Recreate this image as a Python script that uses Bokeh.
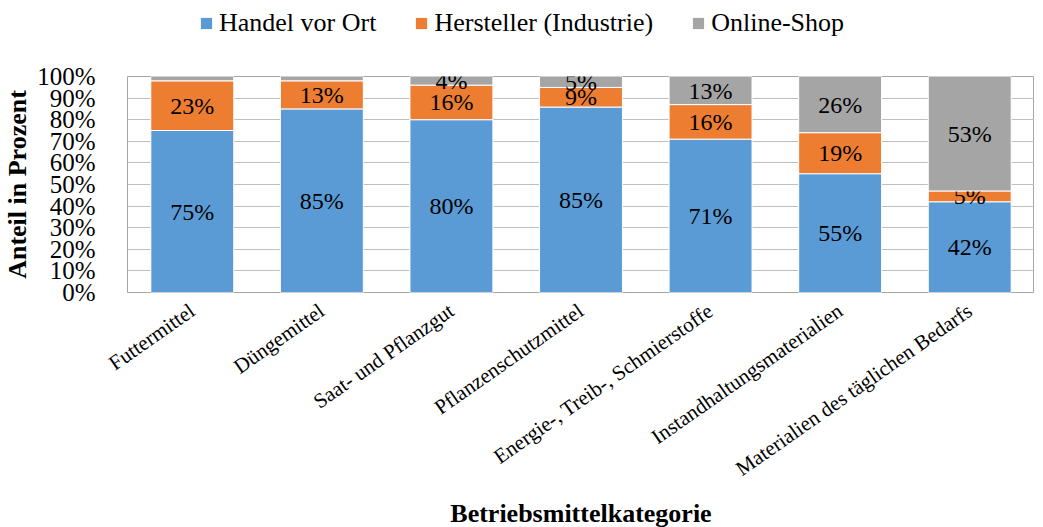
import math
from bokeh.plotting import figure
from bokeh.layouts import column
from bokeh.models import ColumnDataSource, Legend, LegendItem, FactorRange, NumeralTickFormatter, FixedTicker, Range1d
from bokeh.core.properties import value
from bokeh.embed import file_html
from bokeh.resources import INLINE

categories = ["Futtermittel", "Düngemittel", "Saat- und Pflanzgut", "Pflanzenschutzmittel",
              "Energie-, Treib-, Schmierstoffe", "Instandhaltungsmaterialien",
              "Materialien des täglichen Bedarfs"]
handel = [75, 85, 80, 85, 71, 55, 42]
hersteller = [23, 13, 16, 9, 16, 19, 5]
online = [2, 2, 4, 5, 13, 26, 53]
series_names = ["Handel vor Ort", "Hersteller (Industrie)", "Online-Shop"]
colors = ["#5B9BD5", "#ED7D31", "#A5A5A5"]
FONT = "Liberation Serif"

series = [handel, hersteller, online]
totals = [sum(v) for v in zip(*series)]

p = figure(x_range=FactorRange(*categories), y_range=Range1d(0, 1),
           frame_width=907, frame_height=216, output_backend="svg", toolbar_location=None,
           min_border_left=120, min_border_right=0, min_border_top=38, min_border_bottom=0)

bottoms = [0.0] * len(categories)
for name, vals, col in zip(series_names, series, colors):
    fr = [v / t for v, t in zip(vals, totals)]
    tops = [b + f for b, f in zip(bottoms, fr)]
    mids = [(b + t) / 2 for b, t in zip(bottoms, tops)]
    labels = [f"{v}%" if v >= 4 else "" for v in vals]
    src = ColumnDataSource(dict(x=categories, bottom=bottoms, top=tops, mid=mids, label=labels))
    p.vbar(x="x", bottom="bottom", top="top", width=0.64, source=src,
           fill_color=col, line_color="white", line_width=1)
    p.text(x="x", y="mid", text="label", source=src, text_align="center", text_baseline="middle",
           text_font=value(FONT), text_font_size="24px", text_color="black")
    bottoms = tops

p.yaxis.ticker = FixedTicker(ticks=[i / 10 for i in range(11)])
p.yaxis.formatter = NumeralTickFormatter(format="0%")
p.yaxis.axis_label = "Anteil in Prozent"
p.xaxis.axis_label = "Betriebsmittelkategorie"
for ax in (p.xaxis, p.yaxis):
    ax.axis_label_text_font = FONT
    ax.axis_label_text_font_style = "bold"
    ax.axis_label_text_font_size = "26px"
    ax.axis_label_text_color = "black"
    ax.major_label_text_font = FONT
    ax.major_label_text_color = "black"
    ax.axis_line_color = None
    ax.major_tick_line_color = None
    ax.minor_tick_line_color = None
p.yaxis.major_label_text_font_size = "25px"
p.yaxis.major_label_standoff = 26
p.yaxis.axis_label_standoff = 2
p.xaxis.major_label_text_font_size = "21px"
p.xaxis.major_label_orientation = math.radians(35)
p.xaxis.major_label_standoff = 10
p.xaxis.axis_label_standoff = 6

p.xgrid.grid_line_color = None
p.ygrid.grid_line_color = "#BFBFBF"
p.ygrid.grid_line_width = 1
p.outline_line_color = "#A6A6A6"
p.x_range.range_padding = 0
p.x_range.group_padding = 0

# legend in a separate strip above the chart (proxy renderers have zero height)
lf = figure(width=1027, height=38, x_range=Range1d(0, 1), y_range=Range1d(0, 1),
            output_backend="svg", toolbar_location=None,
            min_border=0, min_border_left=0, min_border_right=0, min_border_top=0, min_border_bottom=0,
            outline_line_color=None)
lf.axis.visible = False
lf.grid.visible = False
items = []
for name, col in zip(series_names, colors):
    r = lf.vbar(x=[0.5], top=[0], bottom=[0], width=0.0, fill_color=col, line_color=None)
    items.append(LegendItem(label=name, renderers=[r]))
legend = Legend(items=items, orientation="horizontal", location=(72, 0),
                label_text_font=FONT, label_text_font_size="26px", label_text_color="black",
                glyph_width=14, glyph_height=14, spacing=38, label_standoff=6,
                border_line_color=None, background_fill_alpha=0, padding=2, margin=0)
lf.add_layout(legend, "center")

layout = column(lf, p, spacing=0)
open("out.html", "w").write(file_html(layout, INLINE))
